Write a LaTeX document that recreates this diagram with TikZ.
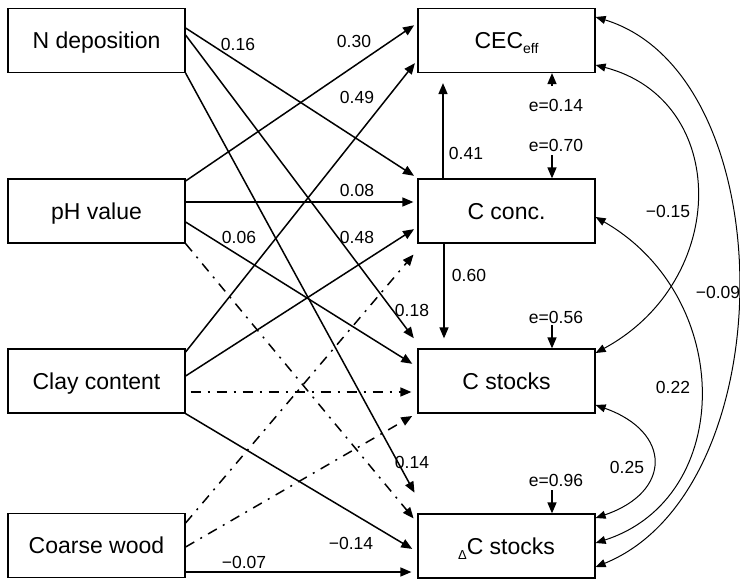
\documentclass[tikz,border=0pt]{standalone}
\usepackage{fontspec}
\setmainfont{Liberation Sans}
\usetikzlibrary{arrows.meta,calc}
\begin{document}
\begin{tikzpicture}[x=1pt,y=-1pt,
 box/.style={draw,line width=1.2pt,minimum width=177pt,minimum height=64pt,inner sep=0pt,font=\fontsize{23}{23}\selectfont,text height=16.5pt,text depth=0pt},
 arr/.style={line width=1.5pt,-{Triangle[length=11pt,width=9pt]}},
 ddash/.style={arr,dash pattern=on 10pt off 7pt on 2pt off 7pt},
 cov/.style={line width=1pt,{Triangle[length=10pt,width=8pt]}-{Triangle[length=10pt,width=8pt]}},
 lab/.style={font=\fontsize{17.5}{17.5}\selectfont,inner sep=0pt},
 sub/.style={}
]
\useasboundingbox (0,0) rectangle (740,579);
% left column
\node[box] (ndep) at (96.5,40.5) {N deposition};
\node[box] (ph) at (96.5,211) {pH value};
\node[box] (clay) at (96.5,381) {Clay content};
\node[box] (coarse) at (96.5,545.5) {Coarse wood};
% right column
\node[box] (cec) at (506.5,40.5) {CEC\raisebox{-5pt}{\fontsize{14}{14}\selectfont eff}};
\node[box] (cconc) at (506.5,211) {C conc.};
\node[box] (cstk) at (506.5,381) {C stocks};
\node[box] (dcs) at (506.5,546) {\raisebox{-5pt}{\fontsize{13}{13}\selectfont Δ}C stocks};
% straight paths
\draw[arr,shorten >=4pt] (ndep.east |- 0,28) -- (cconc.west |- 0,178);
\draw[arr,shorten >=6pt] (ndep.east |- 0,35) -- (cstk.west |- 0,343);
\draw[arr,shorten >=6pt] (ndep.south east) -- (dcs.west |- 0,498);
\draw[arr,shorten >=4pt] (ph.east |- 0,181) -- (cec.west |- 0,23);
\draw[arr,shorten >=4pt] (ph.east |- 0,202) -- (cconc.west |- 0,202);
\draw[arr,shorten >=6pt] (ph.east |- 0,222) -- (cstk.west |- 0,367);
\draw[ddash,shorten >=6pt] (ph.south east) -- (dcs.west |- 0,523);
\draw[arr,shorten >=4pt] (clay.east |- 0,352) -- (cec.west |- 0,60);
\draw[arr,shorten >=4pt] (clay.east |- 0,376) -- (cconc.west |- 0,227);
\draw[ddash,shorten <=5pt,shorten >=6pt] (clay.east |- 0,392) -- (cstk.west |- 0,392);
\draw[arr,shorten >=6pt] (clay.south east) -- (dcs.west |- 0,552);
\draw[ddash,shorten >=6pt] (coarse.east |- 0,523) -- (cconc.west |- 0,250);
\draw[ddash,shorten >=6pt] (coarse.east |- 0,547) -- (cstk.west |- 0,413);
\draw[arr,shorten >=6pt] (coarse.east |- 0,572) -- (dcs.west |- 0,572);
% vertical paths
\draw[arr,shorten >=10pt] (cconc.north -| 443,0) -- (cec.south -| 443,0);
\draw[arr,shorten >=10pt] (cconc.south -| 444,0) -- (cstk.north -| 444,0);
% error terms
\coordinate (e1s) at (552,86);
\coordinate (e2s) at (552,155);
\coordinate (e3s) at (552,325);
\coordinate (e4s) at (552,490);
\draw[arr] (e1s) -- (cec.south -| e1s);
\draw[arr] (e2s) -- (cconc.north -| e2s);
\draw[arr] (e3s) -- (cstk.north -| e3s);
\draw[arr] (e4s) -- (dcs.north -| e4s);
\node[lab] (le1) at (556,105) {e=0.14};
\node[lab] (le2) at (556,145) {e=0.70};
\node[lab] (le3) at (556,317) {e=0.56};
\node[lab] (le4) at (556,480) {e=0.96};
% covariances
\draw[cov] (cec.east |- 0,17) .. controls (785,75) and (785,490) .. (dcs.east |- 0,567);
\draw[cov] (cec.east |- 0,65) .. controls (730,100) and (730,280) .. (cstk.east |- 0,353);
\draw[cov] (cconc.east |- 0,217) .. controls (735,297) and (735,498) .. (dcs.east |- 0,543);
\draw[cov] (cstk.east |- 0,405) .. controls (672,432) and (672,492) .. (dcs.east |- 0,518);
% labels
\node[lab] (l1) at (238,44) {0.16};
\node[lab] (l2) at (354,41) {0.30};
\node[lab] (l3) at (357,97) {0.49};
\node[lab] (l4) at (357,190) {0.08};
\node[lab] (l5) at (357,237) {0.48};
\node[lab] (l6) at (239,237) {0.06};
\node[lab] (l7) at (412,310) {0.18};
\node[lab] (l8) at (412,462) {0.14};
\node[lab] (l9) at (351,543) {−0.14};
\node[lab] (l10) at (244,562) {−0.07};
\node[lab] (l11) at (466,153) {0.41};
\node[lab] (l12) at (469,275) {0.60};
\node[lab] (l13) at (668,211) {−0.15};
\node[lab] (l14) at (718,292) {−0.09};
\node[lab] (l15) at (673,387) {0.22};
\node[lab] (l16) at (627,467) {0.25};
\end{tikzpicture}
\end{document}
